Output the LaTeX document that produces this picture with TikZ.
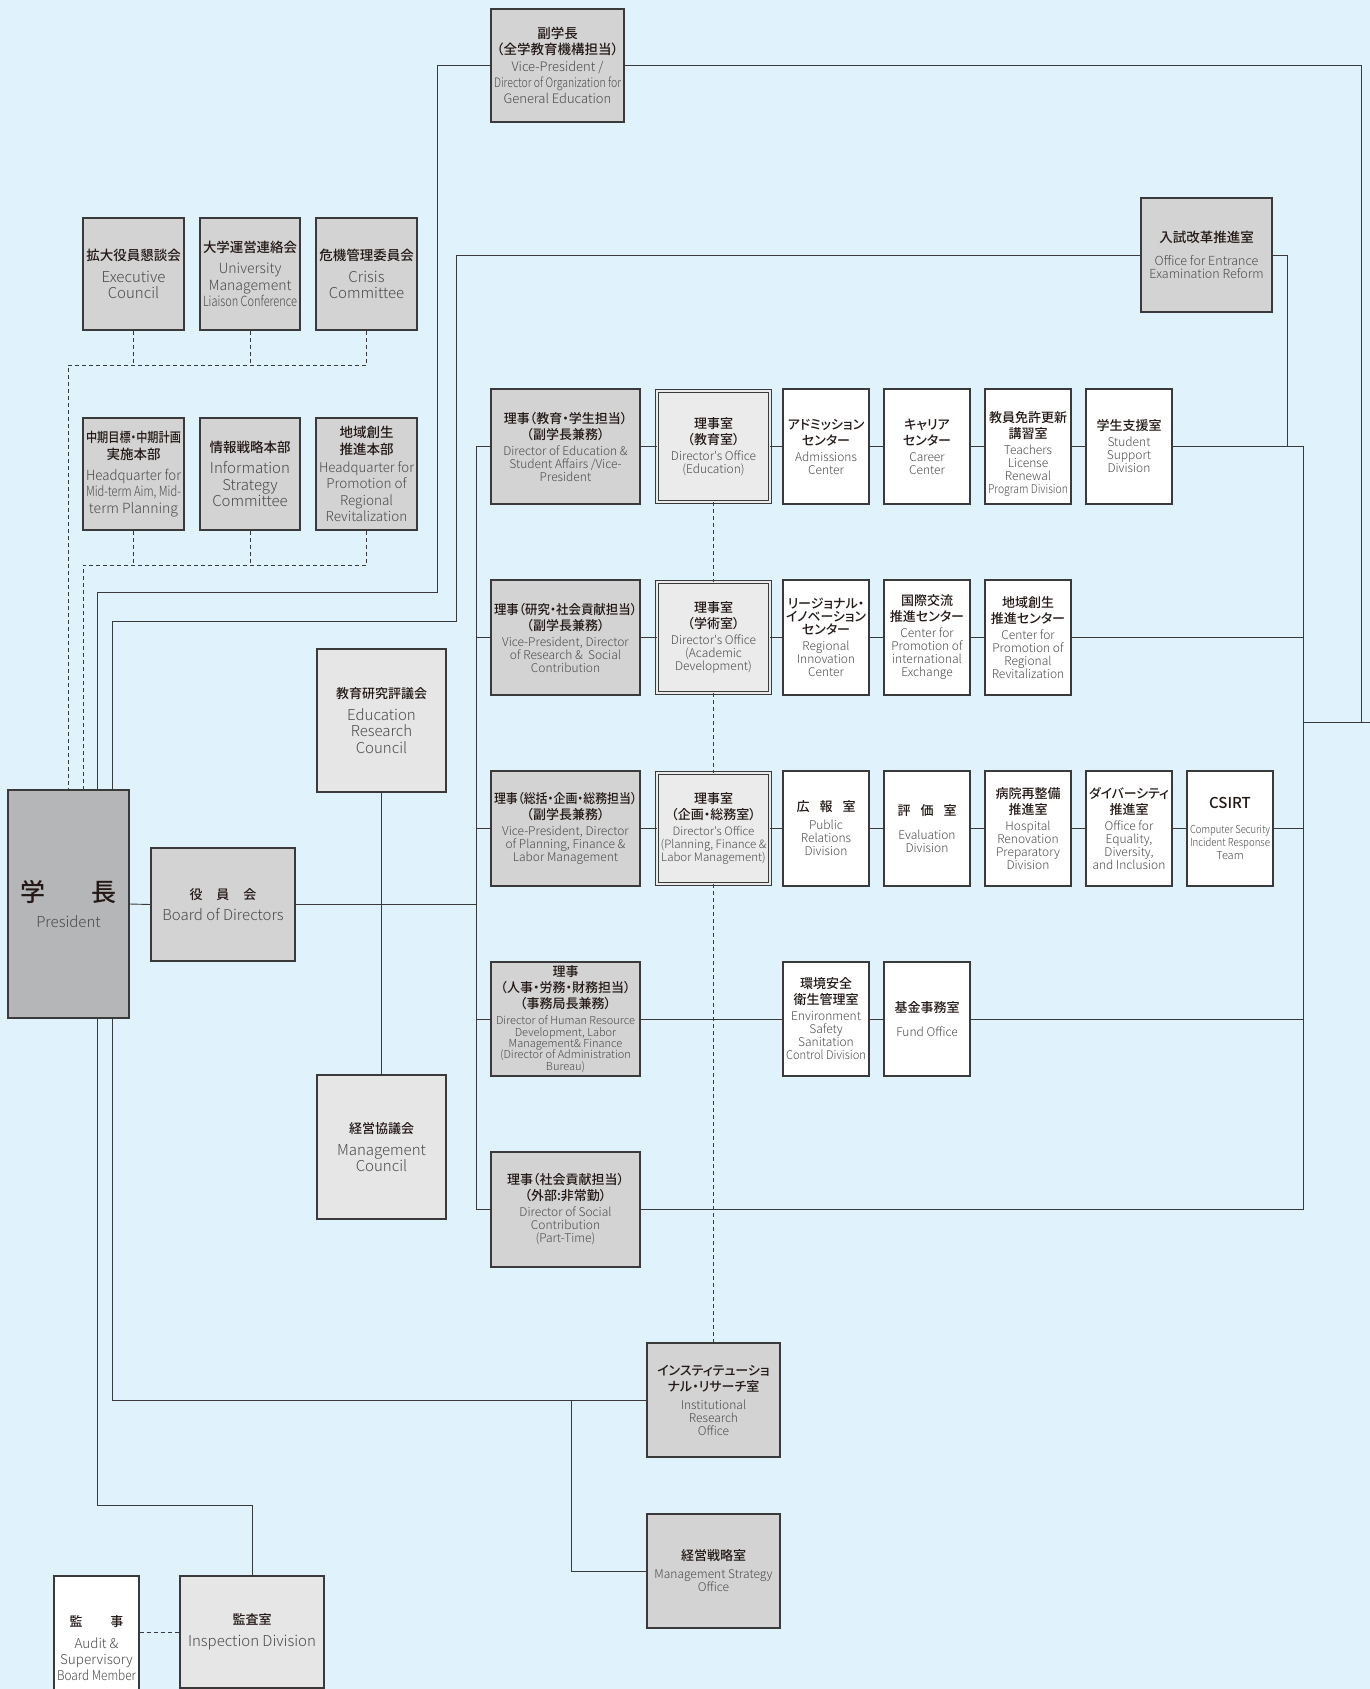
\documentclass[tikz,border=0pt]{standalone}
\usepackage{fontspec}
\usepackage{graphicx}
\IfFontExistsTF{Noto Sans CJK JP Medium}{\setmainfont{Noto Sans CJK JP Medium}[RawFeature=+palt]}{\setmainfont{Noto Sans CJK JP}[RawFeature=+palt]}
\IfFontExistsTF{Noto Sans CJK JP Light}{\newfontfamily\enf{Noto Sans CJK JP Light}}{\newfontfamily\enf{Noto Sans CJK JP}}
\definecolor{bg}{HTML}{E0F2FC}
\definecolor{gfill}{HTML}{D3D3D4}
\definecolor{lfill}{HTML}{E6E6E7}
\definecolor{dofill}{HTML}{EBEBEB}
\definecolor{pfill}{HTML}{B5B6B8}
\definecolor{bc}{HTML}{3A3A3A}
\definecolor{lc}{HTML}{3A3A3A}
\definecolor{jc}{HTML}{231815}
\definecolor{ec}{HTML}{4A4A4A}
\newsavebox\fitbox
\def\jsz{13}
\def\maxw{100}
\newcommand\fitw[1]{\sbox\fitbox{#1}%
  \ifdim\wd\fitbox>\maxw pt\relax
    \pgfmathsetmacro\fitr{\maxw/\the\wd\fitbox}%
    \scalebox{\fitr}[1]{\usebox\fitbox}%
  \else\usebox\fitbox\fi}
\newcommand\J[1]{{\fontsize{\jsz}{\jsz}\selectfont\color{jc}\fitw{#1}}}
\newcommand\E[1]{{\enf\color{ec}\fitw{#1}}}
\newcommand\bx[7]{\pgfmathsetmacro\maxw{#4-#2-6}%
  \node[#6, minimum width={(#4-#2)*1pt}, minimum height={(#5-#3)*1pt}] (#1) at ({(#2+#4)/2},{(#3+#5)/2}) {#7};}
\tikzset{
  fs/.style n args={3}{font={\fontsize{#1}{#2}\selectfont\lineskiplimit=-50pt\def\jsz{#3}}},
  base/.style={draw=bc, line width=1.1pt, inner sep=0pt, align=center, fs={12}{13}{13}},
  gbox/.style={base, fill=gfill},
  lbox/.style={base, fill=lfill},
  wbox/.style={base, fill=white},
  pbox/.style={base, fill=pfill},
  dobox/.style={base, fill=dofill, line width=0.8pt, double=dofill, double distance=2.6pt},
  ln/.style={draw=lc, line width=0.9pt},
  dl/.style={ln, dash pattern=on 4pt off 3pt},
}
\begin{document}
\begin{tikzpicture}[x=1pt,y=-1pt]
\fill[bg] (0,0) rectangle (1370,1689);
\useasboundingbox (0,0) rectangle (1370,1689);

% ---- top ----
\bx{vp}{491}{9}{624}{122}{gbox,fs={13}{16.4}{13.5}}{\J{副学長}\\\J{（全学教育機構担当）}\\\E{Vice-President /}\\\E{Director of Organization for}\\\E{General Education}}
\bx{oer}{1141}{198}{1272}{312}{gbox,fs={12.5}{13}{13.5}}{\J{入試改革推進室}\\[10pt]\E{Office for Entrance}\\\E{Examination Reform}}

% ---- councils ----
\bx{ec}{83}{218}{184}{330}{gbox,fs={15}{16.4}{13.5}}{\J{拡大役員懇談会}\\[5pt]\E{Executive}\\\E{Council}}
\bx{um}{200}{218}{300}{330}{gbox,fs={14}{16.4}{13.5}}{\J{大学運営連絡会}\\[5pt]\E{University}\\\E{Management}\\\E{Liaison Conference}}
\bx{cr}{316}{218}{417}{330}{gbox,fs={15}{16.4}{13.5}}{\J{危機管理委員会}\\[5pt]\E{Crisis}\\\E{Committee}}
\bx{mt}{83}{418}{184}{530}{gbox,fs={14}{16.4}{13.5}}{\J{中期目標・中期計画}\\\J{実施本部}\\[5pt]\E{Headquarter for}\\\E{Mid-term Aim, Mid-}\\\E{term Planning}}
\bx{is}{200}{418}{300}{530}{gbox,fs={15}{16.4}{13.5}}{\J{情報戦略本部}\\[5pt]\E{Information}\\\E{Strategy}\\\E{Committee}}
\bx{rr}{316}{418}{417}{530}{gbox,fs={13.5}{16.4}{13.5}}{\J{地域創生}\\\J{推進本部}\\[2pt]\E{Headquarter for}\\\E{Promotion of}\\\E{Regional}\\\E{Revitalization}}

% ---- president side ----
\bx{pres}{8}{790}{129}{1018}{pbox,fs={15}{16}{25}}{\J{学\hspace{46pt}長}\\[10pt]\E{President}}
\bx{board}{151}{848}{295}{961}{gbox,fs={15}{16.4}{13}}{\J{役\hspace{14pt}員\hspace{14pt}会}\\[4.6pt]\E{Board of Directors}}
\bx{erc}{317}{649}{446}{792}{lbox,fs={15}{16.4}{13}}{\J{教育研究評議会}\\[5.6pt]\E{Education}\\\E{Research}\\\E{Council}}
\bx{mc}{317}{1075}{446}{1219}{lbox,fs={15}{16.4}{13}}{\J{経営協議会}\\[5.6pt]\E{Management}\\\E{Council}}

% ---- row 1 ----
\bx{a1}{491}{389}{640}{504}{gbox}{\J{理事（教育・学生担当）}\\[3pt]\J{（副学長兼務）}\\[3pt]\E{Director of Education \&}\\\E{Student Affairs /Vice-}\\\E{President}}
\bx{b1}{657}{391}{770}{502}{dobox}{\J{理事室}\\[3pt]\J{（教育室）}\\[3pt]\E{Director's Office}\\\E{(Education)}}
\bx{c1}{783}{389}{869}{504}{wbox}{\J{アドミッション}\\[3pt]\J{センター}\\[3pt]\E{Admissions}\\\E{Center}}
\bx{d1}{884}{389}{970}{504}{wbox}{\J{キャリア}\\[3pt]\J{センター}\\[3pt]\E{Career}\\\E{Center}}
\bx{e1}{985}{389}{1071}{504}{wbox}{\rule{0pt}{14pt}\\\J{教員免許更新}\\[3pt]\J{講習室}\\[3pt]\E{Teachers}\\\E{License}\\\E{Renewal}\\\E{Program Division}}
\bx{f1}{1086}{389}{1172}{504}{wbox}{\J{学生支援室}\\[3pt]\E{Student}\\\E{Support}\\\E{Division}}

% ---- row 2 ----
\bx{a2}{491}{580}{640}{695}{gbox}{\J{理事（研究・社会貢献担当）}\\[3pt]\J{（副学長兼務）}\\[3pt]\E{Vice-President, Director}\\\E{of Research \&\ \ Social}\\\E{Contribution}}
\bx{b2}{657}{582}{770}{693}{dobox}{\J{理事室}\\[3pt]\J{（学術室）}\\[3pt]\E{Director's Office}\\\E{(Academic}\\\E{Development)}}
\bx{c2}{783}{580}{869}{695}{wbox}{\J{リージョナル・}\\\J{イノベーション}\\\J{センター}\\[3pt]\E{Regional}\\\E{Innovation}\\\E{Center}}
\bx{d2}{884}{580}{970}{695}{wbox}{\J{国際交流}\\[3pt]\J{推進センター}\\[3pt]\E{Center for}\\\E{Promotion of}\\\E{international}\\\E{Exchange}}
\bx{e2}{985}{580}{1071}{695}{wbox}{\J{地域創生}\\[3pt]\J{推進センター}\\[3pt]\E{Center for}\\\E{Promotion of}\\\E{Regional}\\\E{Revitalization}}

% ---- row 3 ----
\bx{a3}{491}{771}{640}{886}{gbox}{\J{理事（総括・企画・総務担当）}\\[3pt]\J{（副学長兼務）}\\[3pt]\E{Vice-President, Director}\\\E{of Planning, Finance \&}\\\E{Labor Management}}
\bx{b3}{657}{773}{770}{884}{dobox,fs={11.5}{13}{13}}{\J{理事室}\\[3pt]\J{（企画・総務室）}\\[3pt]\E{Director's Office}\\\E{(Planning, Finance \&}\\\E{Labor Management)}}
\bx{c3}{783}{771}{869}{886}{wbox}{\J{広\hspace{10pt}報\hspace{10pt}室}\\[5pt]\E{Public}\\\E{Relations}\\\E{Division}}
\bx{d3}{884}{771}{970}{886}{wbox}{\J{評\hspace{10pt}価\hspace{10pt}室}\\[11pt]\E{Evaluation}\\\E{Division}}
\bx{e3}{985}{771}{1071}{886}{wbox}{\J{病院再整備}\\[3pt]\J{推進室}\\[3pt]\E{Hospital}\\\E{Renovation}\\\E{Preparatory}\\\E{Division}}
\bx{f3}{1086}{771}{1172}{886}{wbox}{\J{ダイバーシティ}\\[3pt]\J{推進室}\\[3pt]\E{Office for}\\\E{Equality,}\\\E{Diversity,}\\\E{and Inclusion}}
\bx{g3}{1187}{771}{1273}{886}{wbox,fs={11}{13}{15}}{\J{CSIRT}\\[12pt]\E{Computer Security}\\\E{Incident Response}\\\E{Team}}

% ---- row 4 ----
\bx{a4}{491}{962}{640}{1076}{gbox,fs={11}{11.3}{13}}{\J{理事}\\[4.7pt]\J{（人事・労務・財務担当）}\\[4.7pt]\J{（事務局長兼務）}\\[4.7pt]\E{Director of Human Resource}\\\E{Development, Labor}\\\E{Management\& Finance}\\\E{(Director of Administration}\\\E{Bureau)}}
\bx{c4}{783}{962}{869}{1076}{wbox}{\J{環境安全}\\[3pt]\J{衛生管理室}\\[3pt]\E{Environment}\\\E{Safety}\\\E{Sanitation}\\\E{Control Division}}
\bx{d4}{884}{962}{970}{1076}{wbox}{\J{基金事務室}\\[11pt]\E{Fund Office}}

% ---- row 5 ----
\bx{a5}{491}{1152}{640}{1267}{gbox}{\J{理事（社会貢献担当）}\\[3pt]\J{（外部:非常勤）}\\[3pt]\E{Director of Social}\\\E{Contribution}\\\E{(Part-Time)}}

% ---- bottom ----
\bx{ir}{647}{1343}{780}{1457}{gbox}{\J{インスティテューショ}\\[3pt]\J{ナル・リサーチ室}\\[5pt]\E{Institutional}\\\E{Research}\\\E{Office}}
\bx{mso}{647}{1514}{780}{1628}{gbox}{\J{経営戦略室}\\[5pt]\E{Management Strategy}\\\E{Office}}
\bx{insp}{180}{1576}{324}{1688}{lbox,fs={15}{16}{13}}{\J{監査室}\\[6pt]\E{Inspection Division}}
\bx{aud}{54}{1576}{139}{1720}{wbox,fs={13.5}{16.3}{13}}{\J{監\hspace{28pt}事}\\[5.5pt]\E{Audit \&}\\\E{Supervisory}\\\E{Board Member}}

% ---- coordinates ----
\coordinate (xp1) at (97,0);
\coordinate (xp2) at (112,0);
\coordinate (xt) at (476,0);
\coordinate (xr) at (1303,0);
\coordinate (xor) at (1287,0);
\coordinate (k1) at (437,592);
\coordinate (k2) at (1361,722);
\coordinate (k3) at (1370,722);
\coordinate (k4) at (456,621);
\coordinate (k5) at (68,365);
\coordinate (k6) at (83,565);
\coordinate (k7) at (112,1400);
\coordinate (k8) at (571,1400);
\coordinate (k9) at (97,1505);

% ---- connectors ----
\draw[ln] (vp.west) -| (k1) -- (k1 -| xp1) -- (pres.north -| xp1);
\draw[ln] (vp.east) -| (k2);
\draw[ln] (k2 -| xr) -- (k3);
\draw[ln] (oer.west) -| (k4) -- (k4 -| xp2) -- (pres.north -| xp2);
\draw[ln] (oer.east) -| (f1.east -| xor);

\draw[dl] (ec.south) -- (ec.south |- k5) (um.south) -- (um.south |- k5) (cr.south) |- (k5) -- (pres.north -| k5);
\draw[dl] (mt.south) -- (mt.south |- k6) (is.south) -- (is.south |- k6) (rr.south) |- (k6) -- (pres.north -| k6);

\draw[ln] (pres.east) -- (board.west);
\draw[ln] (board.east) -- (board.east -| xt);
\draw[ln] (erc.south) -- (mc.north);

\draw[ln] (a1.west) -| (a5.west -| xt) -- (a5.west);
\draw[ln] (a2.west) -- (a2.west -| xt);
\draw[ln] (a3.west) -- (a3.west -| xt);
\draw[ln] (a4.west) -- (a4.west -| xt);

\draw[ln] (f1.east) -| (a5.east -| xr) -- (a5.east);
\draw[ln] (e2.east) -- (e2.east -| xr);
\draw[ln] (g3.east) -- (g3.east -| xr);
\draw[ln] (d4.east) -- (d4.east -| xr);

\draw[ln] (a1.east) -- (b1.west) (b1.east) -- (c1.west) (c1.east) -- (d1.west) (d1.east) -- (e1.west) (e1.east) -- (f1.west);
\draw[ln] (a2.east) -- (b2.west) (b2.east) -- (c2.west) (c2.east) -- (d2.west) (d2.east) -- (e2.west);
\draw[ln] (a3.east) -- (b3.west) (b3.east) -- (c3.west) (c3.east) -- (d3.west) (d3.east) -- (e3.west) (e3.east) -- (f3.west) (f3.east) -- (g3.west);
\draw[ln] (a4.east) -- (c4.west) (c4.east) -- (d4.west);

\draw[dl] (b1.south) -- (b2.north) (b2.south) -- (b3.north) (b3.south) -- (ir.north);

\draw[ln] (pres.south -| k7) -- (k7) -- (ir.west);
\draw[ln] (k8) |- (mso.west);
\draw[ln] (pres.south -| k9) -- (k9) -| (insp.north);
\draw[dl] (insp.west -| aud.east) -- (insp.west);
\end{tikzpicture}
\end{document}
